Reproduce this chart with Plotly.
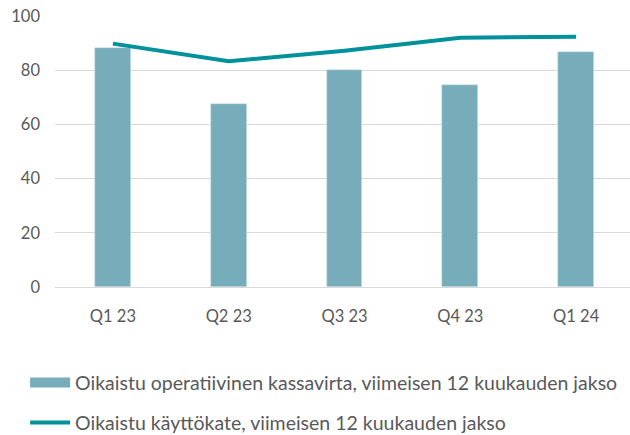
import plotly.graph_objects as go

quarters = ["Q1 23", "Q2 23", "Q3 23", "Q4 23", "Q1 24"]
cash_flow_ltm = [88.1, 67.4, 80.0, 74.7, 86.6]
ebitda_ltm = [89.8, 83.3, 87.2, 92.0, 92.3]
y_ticks = [0, 20, 40, 60, 80, 100]

BAR_NAME = "Oikaistu operatiivinen kassavirta, viimeisen 12 kuukauden jakso"
LINE_NAME = "Oikaistu käyttökate, viimeisen 12 kuukauden jakso"
BAR_COLOR = "#77acbb"
LINE_COLOR = "#00919a"
TEXT_COLOR = "#595959"
FONT = "Lato, 'Open Sans', sans-serif"

fig = go.Figure()
fig.add_trace(
    go.Bar(
        x=quarters,
        y=cash_flow_ltm,
        width=0.31,
        marker={"color": BAR_COLOR, "line": {"color": "#d6e6eb", "width": 0.6}},
        showlegend=False,
    )
)
fig.add_trace(
    go.Scatter(
        x=quarters,
        y=ebitda_ltm,
        mode="lines",
        line={"color": LINE_COLOR, "width": 4},
        showlegend=False,
    )
)
# legend entries (swatch styled like the original)
fig.add_trace(
    go.Scatter(
        x=[None],
        y=[None],
        mode="lines",
        line={"color": BAR_COLOR, "width": 11},
        name=BAR_NAME,
        legend="legend",
    )
)
fig.add_trace(
    go.Scatter(
        x=[None],
        y=[None],
        mode="lines",
        line={"color": LINE_COLOR, "width": 4},
        name=LINE_NAME,
        legend="legend2",
    )
)

legend_style = {
    "orientation": "h",
    "xanchor": "left",
    "yanchor": "middle",
    "x": -0.052,
    "itemwidth": 40,
    "bgcolor": "rgba(0,0,0,0)",
    "font": {"family": FONT, "size": 19.5, "color": TEXT_COLOR},
}

fig.update_layout(
    width=630,
    height=435,
    margin={"l": 55, "r": 0, "t": 16, "b": 148, "autoexpand": False},
    paper_bgcolor="white",
    plot_bgcolor="white",
    font={"family": FONT, "size": 16.5, "color": TEXT_COLOR},
    bargap=0,
    xaxis={
        "range": [-0.5, 4.465],
        "showgrid": False,
        "showline": False,
        "ticks": "",
        "ticklabelstandoff": 17,
    },
    yaxis={
        "range": [0, 100],
        "tickvals": y_ticks,
        "showgrid": True,
        "gridcolor": "#d9d9d9",
        "gridwidth": 1.3,
        "zeroline": True,
        "zerolinecolor": "#d9d9d9",
        "zerolinewidth": 1.3,
        "showline": False,
        "ticks": "",
        "ticklabelstandoff": 14,
    },
    legend={**legend_style, "y": -0.354},
    legend2={**legend_style, "y": -0.501},
)

# the page body has a default 8px margin; drop it so the figure fills the window
fig.write_html(
    "out.html",
    config={"displayModeBar": False},
    post_script="document.body.style.margin = '0';",
)
